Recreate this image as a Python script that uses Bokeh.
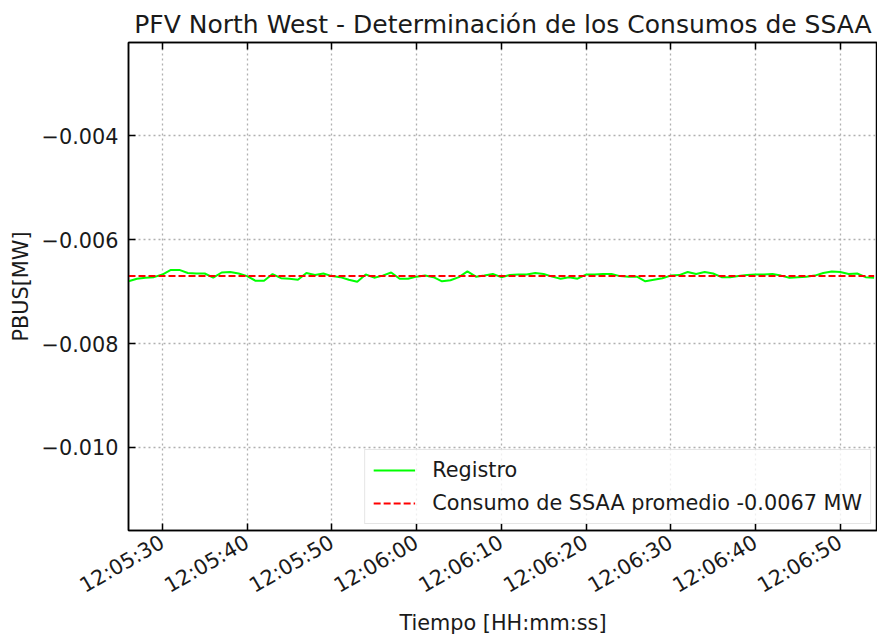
import pandas as pd
from bokeh.plotting import figure
from bokeh.models import (Range1d, DatetimeAxis, FixedTicker, DatetimeTickFormatter,
                          CustomJSTickFormatter, Legend, LegendItem)
from bokeh.embed import file_html
from bokeh.resources import INLINE

# ---------------- data ----------------
title_text = "PFV North West - Determinación de los Consumos de SSAA"
x_label = "Tiempo [HH:mm:ss]"
y_label = "PBUS[MW]"
day = "2023-01-01"
start_time = "12:05:26"
x_start = "12:05:26"
x_end = "12:06:54.4"
tick_times = ["12:05:30", "12:05:40", "12:05:50", "12:06:00", "12:06:10",
              "12:06:20", "12:06:30", "12:06:40", "12:06:50"]
y_ticks = [-0.004, -0.006, -0.008, -0.010]
y_min, y_max = -0.0116, -0.0022

registro = [
    -0.00680, -0.00675, -0.00673, -0.00672, -0.00667, -0.00658, -0.00658, -0.00664,
    -0.00665, -0.00665, -0.00673, -0.00663, -0.00662, -0.00665, -0.00670, -0.00679,
    -0.00679, -0.00666, -0.00674, -0.00675, -0.00677, -0.00664, -0.00668, -0.00665,
    -0.00670, -0.00672, -0.00677, -0.00681, -0.00667, -0.00673, -0.00669, -0.00663,
    -0.00675, -0.00675, -0.00671, -0.00669, -0.00672, -0.00680, -0.00678, -0.00672,
    -0.00661, -0.00671, -0.00669, -0.00666, -0.00672, -0.00668, -0.00667, -0.00667,
    -0.00664, -0.00666, -0.00671, -0.00675, -0.00672, -0.00675, -0.00667, -0.00667,
    -0.00666, -0.00666, -0.00670, -0.00671, -0.00671, -0.00680, -0.00677, -0.00674,
    -0.00669, -0.00668, -0.00662, -0.00666, -0.00662, -0.00665, -0.00672, -0.00672,
    -0.00670, -0.00668, -0.00667, -0.00667, -0.00666, -0.00669, -0.00673, -0.00672,
    -0.00671, -0.00669, -0.00664, -0.00661, -0.00662, -0.00666, -0.00665, -0.00672,
    -0.00673,
]
promedio = -0.0067
label_registro = "Registro"
label_promedio = "Consumo de SSAA promedio -0.0067 MW"

# ---------------- build ----------------
times = pd.date_range(f"{day} {start_time}", periods=len(registro), freq="1s")
mean_vals = [promedio] * len(registro)


def ms(t):
    return pd.Timestamp(f"{day} {t}").value / 1e6


x_ticker = FixedTicker(ticks=[ms(t) for t in tick_times])
FONT = "DejaVu Sans"
TXT = "#1a1a1a"

p = figure(width=877, height=637, x_axis_type="datetime",
           x_range=Range1d(ms(x_start), ms(x_end)),
           y_range=Range1d(y_min, y_max),
           output_backend="svg", toolbar_location=None,
           min_border_left=128, min_border_right=0,
           min_border_top=42, min_border_bottom=105,
           title=title_text)

p.background_fill_color = "white"
p.border_fill_color = "white"
p.outline_line_color = "black"
p.outline_line_width = 1.5

p.title.text_font = FONT
p.title.text_font_size = "25px"
p.title.text_font_style = "normal"
p.title.text_color = TXT
p.title.align = "center"
p.title.standoff = 8
p.title.text_line_height = 1.0

r1 = p.line(times, registro, line_color="#00ff00", line_width=2)
r2 = p.line(times, mean_vals, line_color="#ff0000", line_width=2, line_dash="7 3")

# x axis
xa = p.xaxis[0]
xa.ticker = x_ticker
xa.formatter = DatetimeTickFormatter(
    milliseconds="%H:%M:%S", seconds="%H:%M:%S", minsec="%H:%M:%S",
    minutes="%H:%M:%S", hourmin="%H:%M:%S", hours="%H:%M:%S")
xa.major_label_orientation = 0.5236
xa.axis_label = x_label

# y axis
ya = p.yaxis[0]
ya.ticker = FixedTicker(ticks=y_ticks)
ya.formatter = CustomJSTickFormatter(code="return tick.toFixed(3).replace('-', '\u2212');")
ya.axis_label = y_label

for ax in (xa, ya):
    ax.major_tick_in = 7
    ax.major_tick_out = 0
    ax.minor_tick_in = 0
    ax.minor_tick_out = 0
    ax.major_tick_line_color = "black"
    ax.major_tick_line_width = 1.5
    ax.axis_line_color = "black"
    ax.axis_line_width = 1.5
    ax.major_label_text_font = FONT
    ax.major_label_text_font_size = "20.8px"
    ax.major_label_text_color = TXT
    ax.axis_label_text_font = FONT
    ax.axis_label_text_font_size = "20.8px"
    ax.axis_label_text_font_style = "normal"
    ax.axis_label_text_color = TXT

xa.major_label_standoff = 10
xa.axis_label_standoff = 0
xa.major_label_text_line_height = 0.9
xa.axis_label_text_line_height = 0.9
ya.major_label_standoff = 10
ya.axis_label_standoff = 6

# top ticks
top = DatetimeAxis(ticker=x_ticker, formatter=CustomJSTickFormatter(code="return '';"),
                   major_tick_in=7, major_tick_out=0, minor_tick_in=0, minor_tick_out=0,
                   major_tick_line_color="black", major_tick_line_width=1.5,
                   axis_line_color="black", axis_line_width=1.5,
                   major_label_standoff=0, major_label_text_font_size="1px")
p.add_layout(top, "above")

# grid
p.xgrid.ticker = x_ticker
p.ygrid.ticker = FixedTicker(ticks=y_ticks)
p.grid.grid_line_color = "#b0b0b0"
p.grid.grid_line_dash = "2 3"
p.grid.grid_line_width = 1.3

legend = Legend(items=[LegendItem(label=label_registro, renderers=[r1]),
                       LegendItem(label=label_promedio, renderers=[r2])],
                location="bottom_right")
legend.label_text_font = FONT
legend.label_text_font_size = "20.8px"
legend.label_text_color = TXT
legend.border_line_color = "#cccccc"
legend.border_line_width = 1.5
legend.background_fill_color = "white"
legend.background_fill_alpha = 0.8
legend.padding = 8
legend.spacing = 9
legend.glyph_width = 42
legend.glyph_height = 24
legend.label_height = 24
legend.label_standoff = 17
legend.margin = 6
p.add_layout(legend)

open("out.html", "w").write(file_html(p, INLINE))
